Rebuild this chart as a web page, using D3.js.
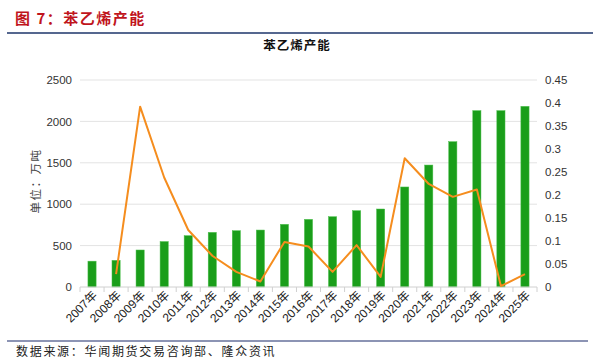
<!DOCTYPE html>
<html><head><meta charset="utf-8">
<script src="https://cdn.jsdelivr.net/npm/d3@7"></script>
<style>
html,body{margin:0;padding:0;background:#fff;}
svg{display:block;font-family:"Liberation Sans",Arial,"Noto Sans CJK SC",sans-serif;}
</style></head>
<body>
<svg id="c" width="593" height="361"></svg>
<script>
const categories = ["2007年","2008年","2009年","2010年","2011年","2012年","2013年","2014年","2015年","2016年","2017年","2018年","2019年","2020年","2021年","2022年","2023年","2024年","2025年"];
const capacity = [312, 322, 447, 549, 620, 660, 680, 688, 757, 817, 849, 922, 942, 1208, 1473, 1755, 2130, 2130, 2182];
const growth = [null, 0.028, 0.392, 0.238, 0.124, 0.068, 0.033, 0.012, 0.098, 0.088, 0.033, 0.091, 0.022, 0.280, 0.224, 0.196, 0.212, 0.002, 0.028];
const leftTicks = [0, 500, 1000, 1500, 2000, 2500];
const rightTicks = [0, 0.05, 0.1, 0.15, 0.2, 0.25, 0.3, 0.35, 0.4, 0.45];

const svg = d3.select("#c");
const pL = 80, pR = 537, pT = 80, pB = 287;

// header
svg.append("text").attr("x", 15).attr("y", 24)
  .attr("font-family", "'Noto Sans CJK SC',sans-serif").attr("font-weight", "bold")
  .attr("font-size", 15).attr("fill", "#c0141c").attr("letter-spacing", 1.5)
  .text("图 7：苯乙烯产能");
svg.append("line").attr("x1", 7).attr("x2", 593).attr("y1", 33).attr("y2", 33)
  .attr("stroke", "#55678f").attr("stroke-width", 2);
svg.append("text").attr("x", 297).attr("y", 50).attr("text-anchor", "middle")
  .attr("font-family", "'Noto Sans CJK SC',sans-serif").attr("font-weight", "bold")
  .attr("font-size", 12.5).attr("letter-spacing", 1).attr("fill", "#111").text("苯乙烯产能");

const x = d3.scaleBand().domain(categories).range([pL, pR]).paddingInner(0).paddingOuter(0);
const yL = d3.scaleLinear().domain([0, 2500]).range([pB, pT]);
const yR = d3.scaleLinear().domain([0, 0.45]).range([pB, pT]);

// gridlines
svg.append("g").selectAll("line").data(leftTicks.filter(d => d > 0)).join("line")
  .attr("x1", pL).attr("x2", pR)
  .attr("y1", d => yL(d)).attr("y2", d => yL(d))
  .attr("stroke", "#e3e3e3").attr("stroke-width", 1);

// left axis labels
const gL = svg.append("g").attr("transform", `translate(${pL},0)`)
  .call(d3.axisLeft(yL).tickValues(leftTicks).tickSize(0).tickPadding(8).tickFormat(d3.format("d")));
gL.select(".domain").remove();
gL.selectAll("text").attr("font-size", 11.5).attr("fill", "#333").attr("font-family", "'Liberation Sans',Arial,sans-serif");

// right axis labels
const gR = svg.append("g").attr("transform", `translate(${pR},0)`)
  .call(d3.axisRight(yR).tickValues(rightTicks).tickSize(0).tickPadding(8).tickFormat(d => d === 0 ? "0" : String(+d.toFixed(2))));
gR.select(".domain").remove();
gR.selectAll("text").attr("font-size", 11.5).attr("fill", "#333").attr("font-family", "'Liberation Sans',Arial,sans-serif");

// bars
const bw = x.bandwidth() * 0.34;
svg.append("g").selectAll("rect").data(capacity).join("rect")
  .attr("x", (d, i) => x(categories[i]) + x.bandwidth() / 2 - bw / 2)
  .attr("width", bw)
  .attr("y", d => yL(d))
  .attr("height", d => yL(0) - yL(d))
  .attr("fill", "#1a9e1a").attr("stroke", "#4cbf4c").attr("stroke-width", 0.5);

// x axis
const gX = svg.append("g").attr("transform", `translate(0,${pB})`);
gX.append("line").attr("x1", pL).attr("x2", pR).attr("y1", 0).attr("y2", 0)
  .attr("stroke", "#d0d0d0").attr("stroke-width", 1);
gX.selectAll("line.tk").data(categories.concat(["end"])).join("line").attr("class", "tk")
  .attr("x1", (d, i) => pL + i * x.bandwidth()).attr("x2", (d, i) => pL + i * x.bandwidth())
  .attr("y1", 0).attr("y2", 5).attr("stroke", "#d0d0d0");
gX.selectAll("text").data(categories).join("text")
  .attr("transform", d => `translate(${x(d) + x.bandwidth() / 2 + 6},${9}) rotate(-45)`)
  .attr("text-anchor", "end").attr("font-size", 12).attr("fill", "#222")
  .attr("font-family", "'Liberation Sans',Arial,'Noto Sans CJK SC',sans-serif")
  .text(d => d);

// line
const pts = growth.map((v, i) => ({ v, c: categories[i] })).filter(p => p.v !== null);
svg.append("path").datum(pts)
  .attr("d", d3.line().x(p => x(p.c) + x.bandwidth() / 2).y(p => yR(p.v)))
  .attr("fill", "none").attr("stroke", "#f58d1e").attr("stroke-width", 2).attr("stroke-linejoin", "round");

// y label
svg.append("text").attr("transform", "translate(40,181) rotate(-90)")
  .attr("text-anchor", "middle").attr("font-size", 11.5).attr("fill", "#444")
  .attr("font-family", "'Noto Sans CJK SC',sans-serif").attr("letter-spacing", 1.5)
  .text("单位：万吨");

// footer
svg.append("line").attr("x1", 7).attr("x2", 588).attr("y1", 341).attr("y2", 341)
  .attr("stroke", "#1b2a6b").attr("stroke-width", 1.2);
svg.append("text").attr("x", 16).attr("y", 356)
  .attr("font-family", "'Noto Sans CJK SC',sans-serif").attr("font-size", 12).attr("fill", "#222")
  .attr("letter-spacing", 1.7)
  .text("数据来源：华闻期货交易咨询部、隆众资讯");
</script>
</body></html>
